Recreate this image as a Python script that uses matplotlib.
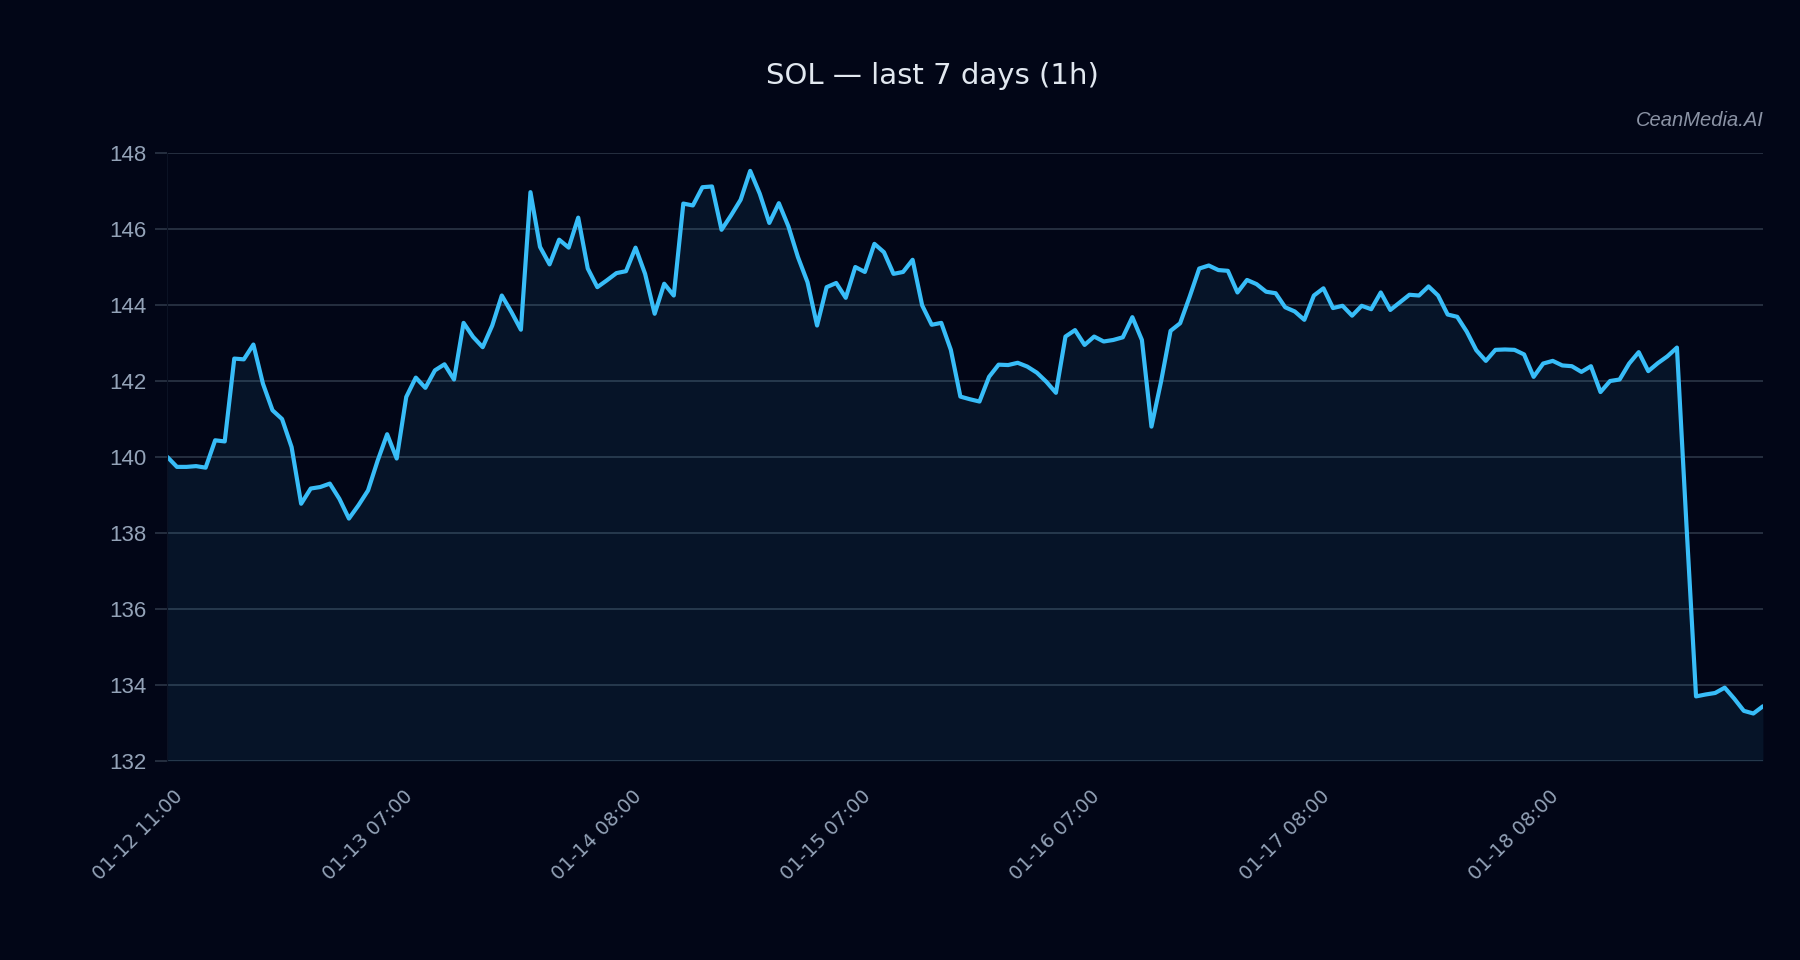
import matplotlib
matplotlib.use('Agg')
import matplotlib.pyplot as plt
import matplotlib.transforms as mtransforms
import numpy as np

# SOL hourly closes, 168 points
prices = [
    140.0, 139.74, 139.74, 139.76, 139.72, 140.44, 140.41, 142.59, 142.57, 142.96,
    141.93, 141.23, 141.0, 140.26, 138.77, 139.17, 139.21, 139.3, 138.9, 138.38,
    138.73, 139.12, 139.9, 140.6, 139.96, 141.58, 142.09, 141.82,
    142.28, 142.44, 142.04, 143.53, 143.16, 142.89, 143.46, 144.25, 143.82, 143.35,
    146.97, 145.53, 145.07, 145.72, 145.51, 146.3, 144.96, 144.47, 144.65, 144.84,
    144.89, 145.51, 144.82, 143.77, 144.56, 144.25, 146.67,
    146.62, 147.1, 147.12, 145.98, 146.36, 146.77, 147.53, 146.93, 146.16, 146.68,
    146.07, 145.26, 144.6, 143.46, 144.47, 144.58, 144.19, 145.0, 144.87, 145.61,
    145.39, 144.82, 144.87, 145.19, 143.99, 143.48, 143.53,
    142.82, 141.59, 141.52, 141.46, 142.11, 142.43, 142.42, 142.48, 142.38, 142.22,
    141.98, 141.69, 143.17, 143.34, 142.95, 143.17, 143.04, 143.08, 143.15, 143.68,
    143.08, 140.8, 141.98, 143.32, 143.52, 144.22, 144.96,
    145.04, 144.92, 144.9, 144.33, 144.66, 144.55, 144.35, 144.31, 143.94, 143.83,
    143.61, 144.25, 144.44, 143.92, 143.98, 143.72, 143.98, 143.89, 144.33, 143.87,
    144.07, 144.27, 144.25, 144.49, 144.25, 143.75, 143.69,
    143.3, 142.81, 142.53, 142.82, 142.83, 142.82, 142.7, 142.11, 142.46, 142.53,
    142.41, 142.39, 142.24, 142.39, 141.71, 142.0, 142.04, 142.46, 142.76, 142.26,
    142.47, 142.65, 142.88, 138.2, 133.7, 133.75, 133.79, 133.93, 133.64, 133.32,
    133.25, 133.44,
]
tick_labels = ['01-12 11:00', '01-13 07:00', '01-14 08:00', '01-15 07:00',
               '01-16 07:00', '01-17 08:00', '01-18 08:00']
y_ticks = [132, 134, 136, 138, 140, 142, 144, 146, 148]

bg = '#020617'
line_c = '#38bdf8'
grid_c = '#2b3547'
text_c = '#94a3b8'

fig = plt.figure(figsize=(18, 9.6), dpi=100, facecolor=bg)
ax = fig.add_axes([0.093, 0.2073, 0.8864, 0.6333])
ax.set_facecolor(bg)

x = np.arange(len(prices))
ax.fill_between(x, prices, 132, color=line_c, alpha=0.08, linewidth=0)
ax.plot(x, prices, color=line_c, linewidth=3, solid_joinstyle='round', solid_capstyle='round')

ax.set_xlim(0, len(prices) - 1)
ax.set_ylim(132, 148)
ax.set_yticks(y_ticks)
ax.set_xticks(np.arange(0, len(prices), 24))
ax.set_xticklabels(tick_labels, rotation=45, ha='right', va='top', rotation_mode='anchor',
                   fontsize=14, color=text_c)
ax.tick_params(axis='x', length=0, pad=14)
# nudge the rotated labels a little right/down
shift = mtransforms.ScaledTranslation(0.06, -0.06, fig.dpi_scale_trans)
for lbl in ax.get_xticklabels():
    lbl.set_transform(lbl.get_transform() + shift)
ax.tick_params(axis='y', length=9, width=1.2, color=grid_c, labelcolor=text_c,
               labelsize=16, pad=6)
for lbl in ax.get_yticklabels():
    lbl.set_fontfamily('Liberation Sans')

ax.grid(axis='y', color=grid_c, linewidth=1.2)
ax.set_axisbelow(True)
for s in ['top', 'right', 'bottom']:
    ax.spines[s].set_visible(False)
ax.spines['left'].set_color('#0b1224')

fig.text(0.518, 1 - 76 / 960, 'SOL — last 7 days (1h)', ha='center', va='center',
         fontsize=21, color='#e2e8f0')
fig.text(1764 / 1800, 1 - 120 / 960, 'CeanMedia.AI', ha='right', va='center',
         fontsize=14.5, style='italic', color='#8b93a5', family='Liberation Sans')

plt.savefig('out.png', dpi=100, facecolor=bg)
